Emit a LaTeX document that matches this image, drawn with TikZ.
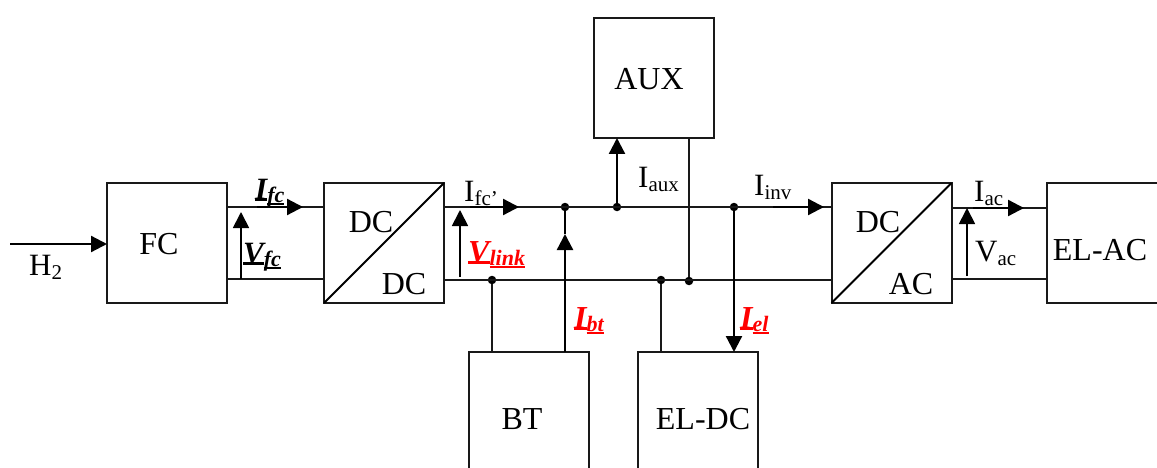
\documentclass[tikz,border=0pt]{standalone}
\usepackage{fontspec}
\setmainfont{Liberation Serif}
\usetikzlibrary{arrows.meta}
\definecolor{redlab}{RGB}{255,0,0}
\newsavebox{\ulbox}
\newcommand{\ul}[3]{\sbox{\ulbox}{#1}\rlap{\raisebox{#2}{\rule{\wd\ulbox}{#3}}}\usebox{\ulbox}}
\newcommand{\pl}[2]{#1\raisebox{-4pt}{\fontsize{21}{21}\selectfont #2}}
\newcommand{\bl}[2]{{\bfseries\itshape\ul{#1}{-1.5pt}{3pt}\raisebox{-3pt}{\fontsize{22}{22}\selectfont\ul{#2}{-2.5pt}{2pt}}}}
\tikzset{
  x=1pt,y=-1pt,
  box/.style={draw=black!90,line width=2pt,minimum width=120pt,minimum height=120pt,inner sep=0pt,outer sep=0pt},
  wire/.style={draw=black!90,line width=1.8pt},
  flow/.style={draw=black,line width=2.3pt,-{Triangle[length=16pt,width=16pt]}},
  volt/.style={draw=black,line width=1.8pt,-{Triangle[length=16pt,width=16pt]}},
  dot/.style={circle,fill=black,minimum size=8.5pt,inner sep=0pt,outer sep=0pt},
  txt/.style={inner sep=0pt,anchor=base,font=\fontsize{32}{32}\selectfont},
  lab/.style={inner sep=0pt,anchor=base west,font=\fontsize{31}{31}\selectfont},
  hot/.style={lab,text=redlab,font=\fontsize{32}{32}\selectfont}
}
\begin{document}
\begin{tikzpicture}
\useasboundingbox (0,0) rectangle (1157,468);
\clip (0,0) rectangle (1157,468);
% blocks
\node[box] (fc) at (167,243) {};
\node[box] (dcdc) at (384,243) {};
\node[box] (dcac) at (891.5,243) {};
\node[box] (elac) at (1107,243) {};
\node[box] (aux) at (653.5,78) {};
\node[box] (bt) at (529,412) {};
\node[box] (eldc) at (697.5,412) {};
\draw[line width=1.8pt] (dcdc.south west) -- (dcdc.north east);
\draw[line width=1.8pt] (dcac.south west) -- (dcac.north east);
% junctions
\node[dot] (j1) at (565,207) {};
\node[dot] (j2) at (617,207) {};
\node[dot] (j3) at (734,207) {};
\node[dot] (j4) at (492,280) {};
\node[dot] (j5) at (661,280) {};
\node[dot] (j6) at (689,281) {};
\coordinate (h2in) at (10,244);
\coordinate (fcU) at (227,207);
\coordinate (fcL) at (227,279);
\coordinate (dcUl) at (323,207);
\coordinate (dcLl) at (323,279);
\coordinate (dcUr) at (444,207);
\coordinate (dcLr) at (444,280);
\coordinate (acUl) at (831,207);
\coordinate (acLl) at (831,280);
\coordinate (acUr) at (952,208);
\coordinate (acLr) at (952,279);
\coordinate (elU) at (1047,208);
\coordinate (elL) at (1047,279);
% wires
\draw[wire] (fcU) -- (dcUl);
\draw[wire] (fcL) -- (dcLl);
\draw[wire] (dcUr) -- (acUl);
\draw[wire] (dcLr) -- (acLl);
\draw[wire] (acUr) -- (elU);
\draw[wire] (acLr) -- (elL);
\draw[wire] (j4) -- (j4 |- bt.north);
\draw[wire] (j5) -- (j5 |- eldc.north);
\draw[wire] (j6) -- (j6 |- aux.south);
% current arrows
\draw[flow] (h2in) -- (fc.west |- h2in);
\coordinate (a1s) at (257,207); \coordinate (a1e) at (303,207);
\draw[flow] (a1s) -- (a1e);
\coordinate (a2s) at (470,207); \coordinate (a2e) at (519,207);
\draw[flow] (a2s) -- (a2e);
\coordinate (a3s) at (773,207); \coordinate (a3e) at (824,207);
\draw[flow] (a3s) -- (a3e);
\coordinate (a4s) at (973,208); \coordinate (a4e) at (1024,208);
\draw[flow] (a4s) -- (a4e);
\draw[flow] (j2) -- (j2 |- aux.south);
\draw[flow] (j3) -- (j3 |- eldc.north);
\coordinate (a5e) at (565,234);
\draw[flow] (j1 |- bt.north) -- (a5e);
\draw[flow,-] (a5e) -- (j1);
% voltage arrows
\coordinate (v1s) at (241,279); \coordinate (v1e) at (241,212);
\draw[volt] (v1s) -- (v1e);
\coordinate (v2s) at (460,277); \coordinate (v2e) at (460,210);
\draw[volt] (v2s) -- (v2e);
\coordinate (v3s) at (967,276); \coordinate (v3e) at (967,208);
\draw[volt] (v3s) -- (v3e);
% text
\node[txt] (tfc) at (159,254) {FC};
\node[txt] (tdc1) at (371,233) {DC};
\node[txt] (tdc2) at (404,294) {DC};
\node[txt] (tdc3) at (878,233) {DC};
\node[txt] (tac) at (911,294) {AC};
\node[txt] (taux) at (649,90) {AUX};
\node[txt] (tbt) at (522,429) {BT};
\node[txt] (teldc) at (703,429) {EL-DC};
\node[txt] (telac) at (1100,260) {EL-AC};
\node[lab] (lh2) at (29,275) {\pl{H}{2}};
\node[lab] (lifc) at (255,200) {\bl{I}{fc}};
\node[lab] (lvfc) at (243,263) {\bl{V}{fc}};
\node[lab] (lifcp) at (464,201) {\pl{I}{fc’}};
\node[hot] (lvl) at (468,262) {\bl{V}{link}};
\node[lab] (liaux) at (638,188) {\pl{I}{aux}};
\node[lab] (linv) at (754,195) {\pl{I}{inv}};
\node[hot] (libt) at (574,328) {\bl{I}{bt}};
\node[hot] (liel) at (740,328) {\bl{I}{el}};
\node[lab] (liac) at (974,201) {\pl{I}{ac}};
\node[lab] (lvac) at (975,261) {\pl{V}{ac}};
\end{tikzpicture}
\end{document}
